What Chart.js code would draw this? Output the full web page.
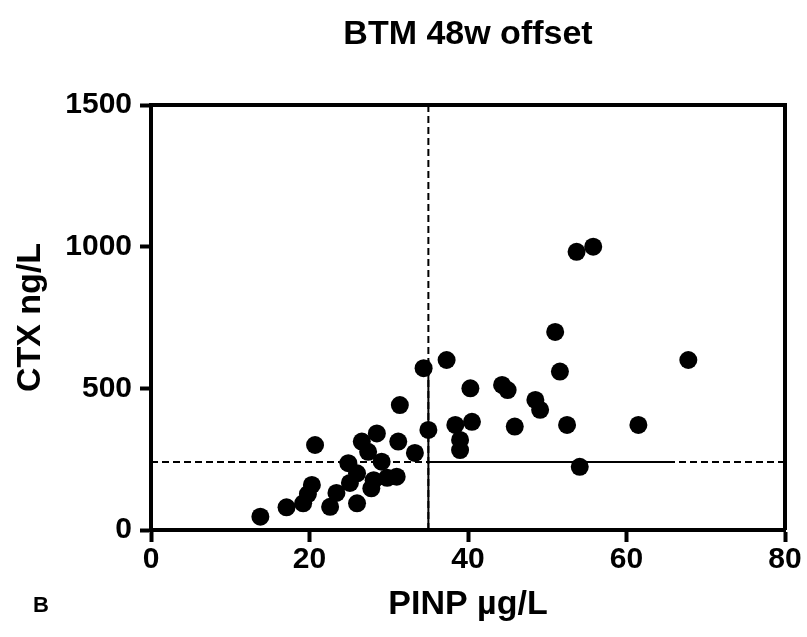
<!DOCTYPE html>
<html><head><meta charset="utf-8">
<script src="https://cdn.jsdelivr.net/npm/chart.js@4"></script>
<style>html,body{margin:0;padding:0;background:#fff}canvas{display:block}</style>
</head><body>
<canvas id="c" width="807" height="637" style="width:807px;height:637px"></canvas>
<script>
const chartTitle = 'BTM 48w offset';
const xTitle = 'PINP µg/L';
const yTitle = 'CTX ng/L';
const panelLabel = 'B';

const pinp = [13.8,17.1,19.2,19.8,20.3,20.7,22.6,23.4,24.9,25.1,26.0,26.0,26.6,27.4,27.8,28.1,28.5,29.1,29.8,31.0,31.2,31.4,33.3,34.4,35.0,37.3,38.4,39.0,39.0,40.3,40.5,44.3,45.0,45.9,48.5,49.1,51.0,51.6,52.5,53.7,54.1,55.8,61.5,67.8];
const ctx = [47,80,94,127,159,300,82,131,236,166,200,94,312,276,147,176,341,241,184,188,312,441,272,571,353,600,371,318,282,500,382,512,494,365,459,424,699,559,371,982,223,1000,371,600];

const xTicks = [0,20,40,60,80];
const yTicks = [0,500,1000,1500];

const cutX = 35;        // PINP cut-off
const cutY = 240;       // CTX cut-off
const solidTopY = 600;  // solid part of vertical cut-off ends here
const solidRightX = 66; // solid part of horizontal cut-off ends here

const FONT = '"Liberation Sans", Arial, sans-serif';

const points = pinp.map((x, i) => ({x, y: ctx[i]}));

const framePlugin = {
  id: 'frame',
  afterDraw(chart) {
    const {ctx: g, chartArea: a} = chart;
    g.save();
    g.strokeStyle = '#000';
    g.lineWidth = 4;
    g.beginPath();
    g.moveTo(a.left, a.top);
    g.lineTo(a.right, a.top);
    g.lineTo(a.right, a.bottom);
    g.stroke();
    // title centred on plot area
    g.fillStyle = '#000';
    g.textAlign = 'center';
    g.textBaseline = 'alphabetic';
    g.font = 'bold 34px ' + FONT;
    g.fillText(chartTitle, (a.left + a.right) / 2, 44);
    g.textAlign = 'left';
    g.font = 'bold 22px ' + FONT;
    g.fillText(panelLabel, 33, 612);
    g.restore();
  }
};

const lineDs = (data, dash) => ({
  type: 'line', data, showLine: true, borderColor: '#000', borderWidth: 2,
  borderDash: dash, pointRadius: 0, fill: false, tension: 0
});

new Chart(document.getElementById('c'), {
  type: 'scatter',
  data: {
    datasets: [
      lineDs([{x: cutX, y: yTicks[0]}, {x: cutX, y: yTicks[yTicks.length-1]}], [7,4]),
      lineDs([{x: cutX, y: yTicks[0]}, {x: cutX, y: solidTopY}], []),
      lineDs([{x: xTicks[0], y: cutY}, {x: xTicks[xTicks.length-1], y: cutY}], [7,4]),
      lineDs([{x: cutX, y: cutY}, {x: solidRightX, y: cutY}], []),
      { data: points, backgroundColor: '#000', borderWidth: 0, pointRadius: 9, pointHoverRadius: 9 }
    ]
  },
  options: {
    responsive: false,
    animation: false,
    devicePixelRatio: 1,
    layout: { padding: { top: 105, right: 22, left: 0, bottom: 0 } },
    plugins: { legend: { display: false }, tooltip: { enabled: false }, title: { display: false } },
    scales: {
      x: {
        type: 'linear', min: 0, max: 80,
        afterBuildTicks: s => { s.ticks = xTicks.map(v => ({value: v})); },
        afterFit: s => { s.height = 107; },
        border: { display: true, color: '#000', width: 4 },
        grid: { drawOnChartArea: false, drawTicks: true, tickLength: 12, tickWidth: 4, tickColor: '#000' },
        ticks: { color: '#000', padding: 0, callback: v => String(v), font: { family: FONT, size: 30, weight: 'bold' }, maxRotation: 0 },
        title: { display: true, text: xTitle, color: '#000', font: { family: FONT, size: 34, weight: 'bold' }, padding: { top: 0, bottom: 12 } }
      },
      y: {
        type: 'linear', min: 0, max: 1500,
        afterBuildTicks: s => { s.ticks = yTicks.map(v => ({value: v})); },
        afterFit: s => { s.width = 151; },
        border: { display: true, color: '#000', width: 4 },
        grid: { drawOnChartArea: false, drawTicks: true, tickLength: 11, tickWidth: 4, tickColor: '#000' },
        ticks: { color: '#000', padding: 8, callback: v => String(v), font: { family: FONT, size: 30, weight: 'bold' } },
        title: { display: true, text: yTitle, color: '#000', font: { family: FONT, size: 34, weight: 'bold' }, padding: { top: 10, bottom: 0 } }
      }
    }
  },
  plugins: [framePlugin]
});
</script>
</body></html>
